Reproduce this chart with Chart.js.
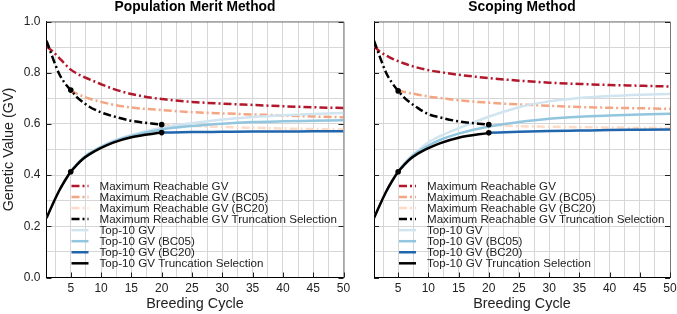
<!DOCTYPE html>
<html>
<head>
<meta charset="utf-8">
<script src="https://cdn.jsdelivr.net/npm/chart.js@4/dist/chart.umd.min.js"></script>
<style>
  body { margin: 0; background: #fff; }
  #wrap { position: relative; width: 677px; height: 314px; }
  canvas { position: absolute; top: 0; }
  #pm { left: 0; }
  #sm { left: 352px; }
</style>
</head>
<body>
<div id="wrap">
  <canvas id="pm" width="352" height="314"></canvas>
  <canvas id="sm" width="325" height="314"></canvas>
</div>
<script>
// breeding cycles where values were read
const cyclesFrom1 = [1, 2, 3, 4, 5, 6, 7, 8, 10, 12, 15, 20, 25, 30, 35, 40, 45, 50];
const cyclesFrom5 = [5, 6, 7, 8, 10, 12, 15, 20, 25, 30, 35, 40, 45, 50];
const cyclesFrom20 = [20, 25, 30, 35, 40, 45, 50];
const cyclesTo20 = [1, 2, 3, 4, 5, 6, 7, 8, 10, 12, 15, 20];
const markCycles = [5, 20];

// axis ticks
const xGridTicks = [2.5, 5, 7.5, 10, 12.5, 15, 17.5, 20, 22.5, 25, 27.5, 30, 32.5, 35, 37.5, 40, 42.5, 45, 47.5, 50];
const xLabelTicks = [5, 10, 15, 20, 25, 30, 35, 40, 45, 50];
const yGridTicks = [0, 0.1, 0.2, 0.3, 0.4, 0.5, 0.6, 0.7, 0.8, 0.9, 1.0];
const yLabelTicks = [0, 0.2, 0.4, 0.6, 0.8, 1.0];

const panelTitles = ["Population Merit Method", "Scoping Method"];
const seriesLabels = [
  "Maximum Reachable GV",
  "Maximum Reachable GV (BC05)",
  "Maximum Reachable GV (BC20)",
  "Maximum Reachable GV Truncation Selection",
  "Top-10 GV",
  "Top-10 GV (BC05)",
  "Top-10 GV (BC20)",
  "Top-10 GV Truncation Selection",
];

// Population Merit Method
const pmMaxGV = [0.903, 0.884, 0.86, 0.835, 0.812, 0.797, 0.785, 0.775, 0.755, 0.737, 0.717, 0.697, 0.686, 0.679, 0.674, 0.669, 0.665, 0.662];
const pmMaxBC05 = [0.732, 0.718, 0.708, 0.699, 0.686, 0.675, 0.664, 0.654, 0.646, 0.641, 0.637, 0.633, 0.629, 0.626];
const pmMaxBC20 = [0.596, 0.592, 0.588, 0.585, 0.582, 0.58, 0.578];
const pmMaxTrunc = [0.925, 0.86, 0.8, 0.76, 0.732, 0.705, 0.685, 0.668, 0.645, 0.63, 0.612, 0.597];
const pmTopGV = [0.232, 0.285, 0.335, 0.378, 0.415, 0.443, 0.467, 0.486, 0.512, 0.534, 0.557, 0.585, 0.603, 0.617, 0.627, 0.634, 0.639, 0.643];
const pmTopBC05 = [0.414, 0.442, 0.465, 0.483, 0.509, 0.531, 0.553, 0.578, 0.592, 0.601, 0.607, 0.61, 0.612, 0.614];
const pmTopBC20 = [0.566, 0.568, 0.569, 0.57, 0.57, 0.571, 0.571];
const pmTopTrunc = [0.232, 0.285, 0.335, 0.377, 0.413, 0.44, 0.463, 0.48, 0.506, 0.527, 0.548, 0.566];

// Scoping Method
const smMaxGV = [0.903, 0.882, 0.868, 0.855, 0.845, 0.836, 0.828, 0.821, 0.81, 0.802, 0.792, 0.779, 0.769, 0.761, 0.756, 0.752, 0.749, 0.746];
const smMaxBC05 = [0.73, 0.725, 0.72, 0.716, 0.707, 0.701, 0.692, 0.683, 0.676, 0.671, 0.666, 0.663, 0.661, 0.659];
const smMaxBC20 = [0.594, 0.591, 0.589, 0.587, 0.586, 0.585, 0.584];
const smMaxTrunc = [0.925, 0.86, 0.8, 0.76, 0.729, 0.703, 0.683, 0.666, 0.638, 0.625, 0.61, 0.597];
const smTopGV = [0.232, 0.285, 0.335, 0.378, 0.415, 0.445, 0.47, 0.49, 0.528, 0.553, 0.583, 0.628, 0.665, 0.688, 0.701, 0.709, 0.714, 0.717];
const smTopBC05 = [0.414, 0.443, 0.467, 0.486, 0.515, 0.538, 0.562, 0.59, 0.607, 0.62, 0.628, 0.633, 0.637, 0.64];
const smTopBC20 = [0.565, 0.569, 0.572, 0.574, 0.576, 0.577, 0.578];
const smTopTrunc = [0.232, 0.285, 0.335, 0.377, 0.413, 0.44, 0.463, 0.48, 0.505, 0.525, 0.546, 0.565];

Chart.defaults.font.family = "'Liberation Sans', Arial, sans-serif";
Chart.defaults.color = "#222";

const dashDot = [8, 3, 2, 3];
const styles = [
  { color: "#b2182b", dash: dashDot, order: 7 },
  { color: "#f4a582", dash: dashDot, order: 6 },
  { color: "#fddbc7", dash: dashDot, order: 5 },
  { color: "#000000", dash: dashDot, order: 1 },
  { color: "#d1e5f0", dash: [], order: 4 },
  { color: "#92c5de", dash: [], order: 3 },
  { color: "#2166ac", dash: [], order: 2 },
  { color: "#000000", dash: [], order: 0 },
];

function pts(cycles, vals) {
  return cycles.map((c, i) => ({ x: c, y: vals[i] }));
}

function makeDatasets(series) {
  return series.map((s, i) => ({
    label: seriesLabels[i],
    data: pts(s[0], s[1]),
    borderColor: styles[i].color,
    backgroundColor: styles[i].color,
    borderDash: styles[i].dash,
    borderWidth: 2.5,
    order: styles[i].order,
    cubicInterpolationMode: "monotone",
    pointRadius: (ctx) => (i === 3 || i === 7) && ctx.raw && markCycles.includes(ctx.raw.x) ? 2.8 : 0,
    pointBorderWidth: 0,
    pointBackgroundColor: "#000",
  }));
}

// frame, inward ticks, title and legend
const decorPlugin = {
  id: "decor",
  beforeDatasetsDraw(chart) {
    const { ctx, chartArea: a } = chart;
    ctx.save();
    ctx.strokeStyle = "#777";
    ctx.lineWidth = 1;
    ctx.beginPath();
    ctx.moveTo(a.left, a.top + 0.5);
    ctx.lineTo(a.right + 0.5, a.top + 0.5);
    ctx.lineTo(a.right + 0.5, a.bottom);
    ctx.stroke();
    ctx.strokeStyle = "#222";
    const xs = chart.scales.x, ys = chart.scales.y;
    ctx.beginPath();
    xLabelTicks.forEach((v) => {
      const px = Math.round(xs.getPixelForValue(v)) + 0.5;
      ctx.moveTo(px, a.bottom);
      ctx.lineTo(px, a.bottom - 5);
    });
    yLabelTicks.forEach((v) => {
      const py = Math.round(ys.getPixelForValue(v)) + 0.5;
      ctx.moveTo(a.left, py);
      ctx.lineTo(a.left + 5, py);
      ctx.moveTo(a.right, py);
      ctx.lineTo(a.right - 5, py);
    });
    ctx.stroke();
    ctx.restore();
  },
  afterDraw(chart, args, opts) {
    const { ctx, chartArea: a } = chart;
    ctx.save();
    ctx.fillStyle = "#000";
    ctx.font = "bold 13.8px 'Liberation Sans', Arial, sans-serif";
    ctx.textAlign = "center";
    ctx.textBaseline = "middle";
    ctx.fillText(opts.title, (a.left + a.right) / 2, 7.5);

    ctx.font = "11.6px 'Liberation Sans', Arial, sans-serif";
    ctx.textAlign = "left";
    const step = 11.05;
    const y0 = a.bottom - 14.2 - step * 7;
    chart.data.datasets.forEach((ds, i) => {
      const y = y0 + i * step;
      ctx.strokeStyle = ds.borderColor;
      ctx.lineWidth = 2.5;
      ctx.setLineDash(ds.borderDash);
      ctx.beginPath();
      ctx.moveTo(a.left + 25, y);
      ctx.lineTo(a.left + 42, y);
      ctx.stroke();
      ctx.setLineDash([]);
      ctx.fillStyle = "#222";
      ctx.fillText(ds.label, a.left + 53, y + 0.5);
    });
    ctx.restore();
  },
};

function makeChart(id, title, series, showY, yWidth, padRight) {
  return new Chart(document.getElementById(id), {
    type: "line",
    data: { datasets: makeDatasets(series) },
    plugins: [decorPlugin],
    options: {
      responsive: false,
      animation: false,
      devicePixelRatio: 1,
      layout: { padding: { top: 21.5, right: padRight, left: 0, bottom: 0 } },
      plugins: {
        legend: { display: false },
        tooltip: { enabled: false },
        decor: { title },
      },
      scales: {
        x: {
          type: "linear",
          min: 1,
          max: 50,
          afterBuildTicks: (s) => { s.ticks = xGridTicks.map((v) => ({ value: v })); },
          afterFit: (s) => { s.height = 36.5; s.paddingLeft = 0; s.paddingRight = 0; },
          ticks: {
            autoSkip: false,
            maxRotation: 0,
            padding: 4,
            font: { size: 12 },
            color: "#222",
            callback: (v) => (xLabelTicks.includes(v) ? String(v) : ""),
          },
          grid: { color: "#d6d6d6", drawTicks: false },
          border: { color: "#000", width: 1 },
          title: {
            display: true,
            text: "Breeding Cycle",
            font: { size: 14.4 },
            color: "#222",
            padding: { top: 0, bottom: 1 },
          },
        },
        y: {
          type: "linear",
          min: 0,
          max: 1,
          afterBuildTicks: (s) => { s.ticks = yGridTicks.map((v) => ({ value: v })); },
          afterFit: (s) => { s.width = yWidth; s.paddingTop = 0; s.paddingBottom = 0; },
          ticks: {
            display: showY,
            padding: 6,
            font: { size: 12 },
            color: "#222",
            callback: (v) => (yLabelTicks.some((t) => Math.abs(t - v) < 1e-6) ? v.toFixed(1) : ""),
          },
          grid: { color: "#d6d6d6", drawTicks: false },
          border: { color: "#000", width: 1 },
          title: {
            display: showY,
            text: "Genetic Value (GV)",
            font: { size: 14.4 },
            color: "#222",
            padding: { top: 0, bottom: 0 },
          },
        },
      },
    },
  });
}

makeChart("pm", panelTitles[0], [
  [cyclesFrom1, pmMaxGV], [cyclesFrom5, pmMaxBC05], [cyclesFrom20, pmMaxBC20], [cyclesTo20, pmMaxTrunc],
  [cyclesFrom1, pmTopGV], [cyclesFrom5, pmTopBC05], [cyclesFrom20, pmTopBC20], [cyclesTo20, pmTopTrunc],
], true, 46.5, 8.5);

makeChart("sm", panelTitles[1], [
  [cyclesFrom1, smMaxGV], [cyclesFrom5, smMaxBC05], [cyclesFrom20, smMaxBC20], [cyclesTo20, smMaxTrunc],
  [cyclesFrom1, smTopGV], [cyclesFrom5, smTopBC05], [cyclesFrom20, smTopBC20], [cyclesTo20, smTopTrunc],
], false, 22, 7);
</script>
</body>
</html>
